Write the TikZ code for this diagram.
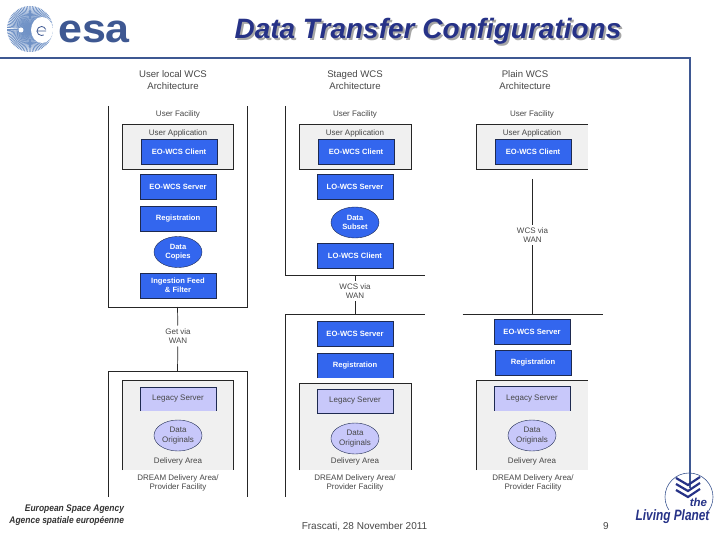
\documentclass[tikz,border=0pt]{standalone}
\usepackage{fontspec}
\setmainfont{Liberation Sans}
\definecolor{esaBlue}{RGB}{62,88,146}
\definecolor{esaNavy}{RGB}{38,50,135}
\definecolor{esaGlobe}{RGB}{112,146,198}
\definecolor{dreamBlue}{RGB}{51,102,238}
\definecolor{dreamLight}{RGB}{200,200,250}
\definecolor{dreamGray}{RGB}{240,240,240}
\definecolor{dreamEdge}{RGB}{30,42,80}
\definecolor{dreamText}{RGB}{70,70,70}
\usetikzlibrary{shapes.geometric}

\begin{document}
\begin{tikzpicture}[x=1pt,y=-1pt,
  inner sep=0pt, outer sep=0pt,
  txt/.style={font=\fontsize{8}{9.2}\selectfont, text=dreamText, align=center},
  head/.style={font=\fontsize{9.6}{12}\selectfont, text=dreamText, align=center},
  wan/.style={txt, inner ysep=3pt},
  blu/.style={draw=dreamEdge, fill=dreamBlue, minimum width=76pt, minimum height=25pt,
              font=\fontsize{7.6}{9.2}\selectfont\bfseries, text=white, align=center},
  blucut/.style={blu, draw=none},
  lgt/.style={draw=dreamEdge, fill=dreamLight, minimum width=76pt, minimum height=24pt,
              font=\fontsize{8}{9.2}\selectfont, text=dreamText},
  lgtcut/.style={lgt, draw=none},
  bluell/.style={ellipse, draw=dreamEdge, fill=dreamBlue, minimum width=48pt, minimum height=31pt,
              font=\fontsize{7.6}{9.2}\selectfont\bfseries, text=white, align=center},
  lgtell/.style={ellipse, draw=dreamEdge, fill=dreamLight, minimum width=48pt, minimum height=31pt,
              font=\fontsize{8}{9.2}\selectfont, text=dreamText, align=center},
  area/.style={fill=dreamGray},
  frame/.style={},
  wire/.style={draw=black!85, line width=0.7pt}
]
  \useasboundingbox (0,0) rectangle (720,540);

  % slide frame
  \draw[esaBlue, line width=2.6pt] (0,58) -- (690,58) -- (690,488);
  \node[font=\fontsize{28}{30}\selectfont\bfseries\itshape, text=black!35] (titleshadow) at (430,33.5) {Data Transfer Configurations};
  \node[font=\fontsize{28}{30}\selectfont\bfseries\itshape, text=esaNavy] (title) at (428,31.5) {Data Transfer Configurations};

  % esa logo
  \foreach \ang in {0,4,...,356}
    \draw[esaGlobe, line width=0.8pt] (30,29) -- ++(\ang:23);
  \fill[white] (42,30) ellipse (11 and 13);
  \fill[white] (21,30) circle (2.5);
  \draw[esaBlue, line width=0.8pt] (46,31) -- (37,31) arc[start angle=180, end angle=340, radius=4.5];
  \draw[esaBlue, line width=0.8pt] (37,31) arc[start angle=180, end angle=60, radius=4.5];
  \node[font=\fontsize{50}{50}\selectfont\bfseries, text=esaBlue, xscale=.86, yscale=.8, transform shape, anchor=base] (esa) at (94,42.5) {esa};

  % first column
  \node[head] (titleA) at (173,80) {User local WCS\\Architecture};
  \node[frame, minimum width=139pt, minimum height=201pt] (ufA) at (177.5,206.5) {};
  \draw[wire] (ufA.north west) -- (ufA.south west) -- (ufA.south east) -- (ufA.north east);
  \node[txt] (ufAt) at (178,114) {User Facility};
  \node[area, draw=black!85, minimum width=111pt, minimum height=45pt] (appA) at (177.5,146.5) {};
  \node[txt] (appAt) at (178,133) {User Application};
  \node[blu] (clientA) at (179,151.5) {EO-WCS Client};
  \node[blu] (serverA) at (178,186.5) {EO-WCS Server};
  \node[blu] (regA) at (178,218.5) {Registration};
  \node[bluell] (copiesA) at (178,252) {Data\\Copies};
  \node[blu] (feedA) at (178,285.5) {Ingestion Feed\\\& Filter};
  \node[wan] (wanA) at (178,336) {Get via\\WAN};
  \node[frame, minimum width=139pt, minimum height=126pt] (dfA) at (177.5,434) {};
  \draw[wire] (dfA.south west) -- (dfA.north west) -- (dfA.north east) -- (dfA.south east);
  \draw[wire] (ufA.south) -- (wanA);
  \draw[wire] (wanA) -- (dfA.north);
  \node[area, minimum width=111pt, minimum height=90pt] (areaA) at (177.5,425) {};
  \draw[wire] (areaA.south west) -- (areaA.north west) -- (areaA.north east) -- (areaA.south east);
  \node[lgtcut] (legacyA) at (178,399) {Legacy Server};
  \draw[dreamEdge, line width=0.7pt] (legacyA.south west) -- (legacyA.north west) -- (legacyA.north east) -- (legacyA.south east);
  \node[lgtell] (origA) at (178,435.5) {Data\\Originals};
  \node[txt] (delA) at (178,461) {Delivery Area};
  \node[txt] (dreamA) at (178,483) {DREAM Delivery Area/\\Provider Facility};

  % second column
  \node[head] (titleB) at (355,80) {Staged WCS\\Architecture};
  \node[frame, minimum width=140pt, minimum height=169pt] (ufB) at (355,190.5) {};
  \draw[wire] (ufB.north west) -- (ufB.south west) -- (ufB.south east);
  \node[txt] (ufBt) at (355,114) {User Facility};
  \node[area, draw=black!85, minimum width=112pt, minimum height=45pt] (appB) at (355,146.5) {};
  \node[txt] (appBt) at (355,133) {User Application};
  \node[blu] (clientB) at (356,151.5) {EO-WCS Client};
  \node[blu] (serverB) at (355,186.5) {LO-WCS Server};
  \node[bluell] (subsetB) at (355,222.5) {Data\\Subset};
  \node[blu] (loclientB) at (355,256) {LO-WCS Client};
  \node[wan] (wanB) at (355,291) {WCS via\\WAN};
  \node[frame, minimum width=140pt, minimum height=183pt] (dfB) at (355,405.5) {};
  \draw[wire] (dfB.south west) -- (dfB.north west) -- (dfB.north east);
  \draw[wire] (ufB.south) -- (wanB);
  \draw[wire] (wanB) -- (dfB.north);
  \node[blu] (serverBB) at (355,333.5) {EO-WCS Server};
  \node[blucut] (regB) at (355,365.5) {Registration};
  \draw[dreamEdge, line width=0.7pt] (regB.south west) -- (regB.north west) -- (regB.north east) -- (regB.south east);
  \node[area, minimum width=112pt, minimum height=87pt] (areaB) at (355,426.5) {};
  \draw[wire] (areaB.south west) -- (areaB.north west) -- (areaB.north east) -- (areaB.south east);
  \node[lgt] (legacyB) at (355,401) {Legacy Server};
  \node[lgtell] (origB) at (355,438.5) {Data\\Originals};
  \node[txt] (delB) at (355,461) {Delivery Area};
  \node[txt] (dreamB) at (355,483) {DREAM Delivery Area/\\Provider Facility};

  % third column
  \node[head] (titleC) at (525,80) {Plain WCS\\Architecture};
  \node[txt] (ufCt) at (532,114) {User Facility};
  \node[area, minimum width=112pt, minimum height=45pt] (appC) at (532,146.5) {};
  \draw[wire] (appC.north east) -- (appC.north west) -- (appC.south west) -- (appC.south east);
  \node[txt] (appCt) at (532,133) {User Application};
  \node[blu] (clientC) at (533,151.5) {EO-WCS Client};
  \coordinate (topC) at (532.5,179);
  \node[wan] (wanC) at (532.5,235) {WCS via\\WAN};
  \node[frame, minimum width=140pt, minimum height=1pt] (dfC) at (532.5,314) {};
  \draw[wire] (dfC.west) -- (dfC.east);
  \draw[wire] (topC) -- (wanC);
  \draw[wire] (wanC) -- (dfC.center);
  \node[blu] (serverC) at (532,331.5) {EO-WCS Server};
  \node[blu] (regC) at (533,362.5) {Registration};
  \node[area, minimum width=112pt, minimum height=90pt] (areaC) at (532,425) {};
  \draw[wire] (areaC.south west) -- (areaC.north west) -- (areaC.north east);
  \node[lgtcut] (legacyC) at (532,398.5) {Legacy Server};
  \draw[dreamEdge, line width=0.7pt] (legacyC.south west) -- (legacyC.north west) -- (legacyC.north east) -- (legacyC.south east);
  \node[lgtell] (origC) at (532,435.5) {Data\\Originals};
  \node[txt] (delC) at (532,461) {Delivery Area};
  \node[txt] (dreamC) at (533,483) {DREAM Delivery Area/\\Provider Facility};

  % footer
  \node[font=\fontsize{10}{11}\selectfont, text=dreamText] (place) at (364.5,526.5) {Frascati, 28 November 2011};
  \node[font=\fontsize{10}{11}\selectfont, text=dreamText] (page) at (606,526) {9};
  \node[font=\fontsize{9.6}{12}\selectfont\bfseries\itshape, text=black!80, align=right, anchor=east, xscale=.88, transform shape] (agency) at (124,515) {European Space Agency\\Agence spatiale européenne};

  % living planet logo
  \draw[esaBlue, line width=0.6pt] (689,497) circle (24);
  \foreach \yy in {482,488,494}
    \draw[esaNavy, line width=2.2pt] (676,\yy-4) -- (688,\yy+3) -- (700,\yy-5);
  \node[fill=white, font=\fontsize{15}{15}\selectfont\bfseries\itshape, text=esaNavy, xscale=.79, transform shape] (living) at (672.5,516.5) {Living Planet};
  \node[font=\fontsize{11.5}{12}\selectfont\bfseries\itshape, text=esaNavy] (the) at (698.5,502) {the};
\end{tikzpicture}
\end{document}
